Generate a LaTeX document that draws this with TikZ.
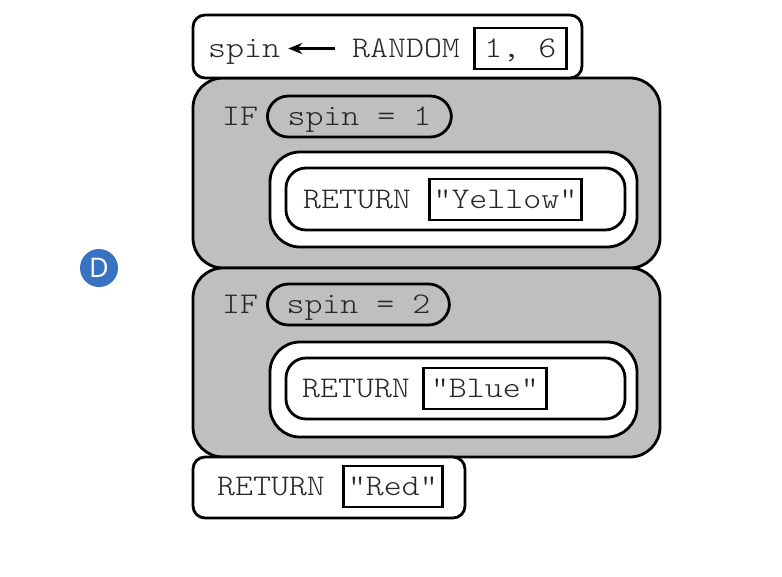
\documentclass[tikz,border=0pt]{standalone}
\usepackage{fontspec}
\setmainfont{Open Sans}
\setmonofont{lmmonolt10-regular.otf}[FakeStretch=1.14]
\usetikzlibrary{arrows.meta}
\definecolor{badgeblue}{RGB}{56,114,194}
\tikzset{
  code/.style={font=\ttfamily\fontsize{30}{36}\selectfont, text=black!85,
    inner sep=0pt, text height=29pt, text depth=12pt, anchor=base west},
  valbox/.style={code, draw, line width=2.8pt},
  pill/.style={valbox, rounded corners=21pt},
  block/.style={draw, line width=2.8pt, fill=white, rounded corners=#1},
  ifblock/.style={block=30pt, fill=black!25},
  assign/.style={line width=2.4pt, -{Stealth[length=14pt,width=11pt]},
    shorten <=17pt, shorten >=8pt},
  badge/.style={circle, fill=badgeblue, minimum size=38pt, inner sep=0pt,
    text=white, font=\fontsize{27}{27}\selectfont}
}
\begin{document}
\begin{tikzpicture}[x=1pt,y=-1pt]
  \useasboundingbox (0,0) rectangle (782,576);
  \draw[ifblock] (193,78) rectangle (660,268);
  \draw[ifblock] (193,268) rectangle (660,457);
  \draw[block=12pt] (193,15) rectangle (582,78);
  \draw[block=12pt] (193,457) rectangle (465,518);
  \draw[block=30pt] (270,152) rectangle (637,247);
  \draw[block=20pt] (286,168) rectangle (625,230);
  \draw[block=30pt] (270,342) rectangle (637,437);
  \draw[block=20pt] (286,358) rectangle (625,419);
  \draw
    (208,57) node[code] (spin) {spin}
    (352,57) node[code] (rand) {RANDOM}
    (473,57) node[valbox, minimum width=92pt] (range) {1, 6}
    (222,125) node[code] (if1) {IF}
    (266,125) node[pill, minimum width=184pt] (test1) {spin = 1}
    (303,208) node[code] (ret1) {RETURN}
    (428,208) node[valbox, minimum width=152pt] (yellow) {"Yellow"}
    (222,313) node[code] (if2) {IF}
    (266,313) node[pill, minimum width=182pt] (test2) {spin = 2}
    (302,397) node[code] (ret2) {RETURN}
    (422,397) node[valbox, minimum width=123pt] (blue) {"Blue"}
    (217,495) node[code] (ret3) {RETURN}
    (342,495) node[valbox, minimum width=99pt] (red) {"Red"};
  \draw[assign] (rand) -- (spin);
  \node[badge] (d) at (99,268) {D};
\end{tikzpicture}
\end{document}
